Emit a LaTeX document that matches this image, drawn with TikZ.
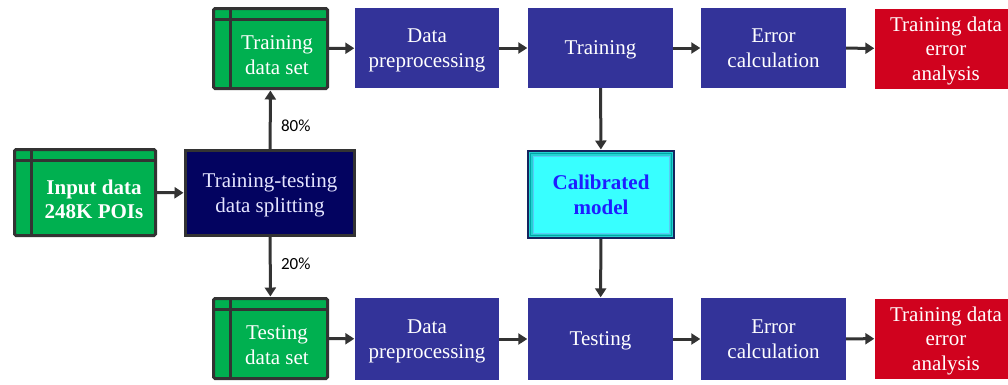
\documentclass[tikz,border=0pt]{standalone}
\usepackage{fontspec}
\setmainfont{Liberation Serif}
\newfontfamily\pctfont{Carlito}
\usetikzlibrary{arrows.meta}
\definecolor{gfill}{HTML}{00B050}
\definecolor{gborder}{HTML}{333333}
\definecolor{navyfill}{HTML}{030360}
\definecolor{bluebox}{HTML}{333399}
\definecolor{redbox}{HTML}{D0021E}
\definecolor{cyanfill}{HTML}{38FFFF}
\definecolor{cyanband}{HTML}{22D2D2}
\definecolor{calborder}{HTML}{16245E}
\definecolor{caltext}{HTML}{1E1EFF}
\definecolor{arrowc}{HTML}{333333}
\tikzset{
  txt/.style={font=\fontsize{21}{24.5}\selectfont, align=center, text=white, text depth=0pt},
  gbox/.style={draw=gborder, line width=3pt, fill=gfill, rounded corners=1.5pt,
    minimum width=#1, inner sep=0pt,
    path picture={
      \draw[line width=3pt, gborder] ([yshift=-11pt]path picture bounding box.north west) -- ([yshift=-11pt]path picture bounding box.north east);
      \draw[line width=3pt, gborder] ([xshift=17pt]path picture bounding box.north west) -- ([xshift=17pt]path picture bounding box.south west);
    }},
  bbox/.style={txt, fill=bluebox, minimum width=144pt, minimum height=80pt, inner sep=0pt},
  rbox/.style={txt, fill=redbox, minimum width=142pt, minimum height=80pt, inner sep=0pt},
  arr/.style={draw=arrowc, line width=3pt, -{Triangle[length=9pt,width=11pt]}, shorten >=0.5pt},
  pct/.style={font=\pctfont\fontsize{17}{19}\selectfont, text=black}
}
\begin{document}
\begin{tikzpicture}[x=1pt,y=-1pt]
\useasboundingbox (0,0) rectangle (1008,384);
\clip (0,0) rectangle (1008,384);
% green data boxes
\node[gbox=141pt, minimum height=86pt] (inp) at (85,192.5) {};
\node[txt, font=\fontsize{21}{24.5}\selectfont\bfseries] (inpt) at (94,199) {Input data\\248K POIs};
\node[gbox=114pt, minimum height=80pt] (trs) at (270.5,48.5) {};
\node[txt] (trst) at (277,55) {Training\\data set};
\node[gbox=114pt, minimum height=80pt] (tes) at (270.5,338.5) {};
\node[txt] (test) at (277,345) {Testing\\data set};
% splitting
\node[txt, fill=navyfill, draw=gborder, line width=3pt, text=white!90!blue, minimum width=169pt, minimum height=85pt, inner sep=0pt] (split) at (270,193) {Training-testing\\data splitting};
% top row
\node[bbox] (dp1) at (427,48) {Data\\preprocessing};
\node[bbox, minimum width=145pt] (tr) at (600.5,48) {Training};
\node[bbox, minimum width=145pt] (ec1) at (773.5,48) {Error\\calculation};
\node[rbox] (ra1) at (946,48.5) {Training data\\error\\analysis};
% bottom row
\node[bbox, minimum height=82pt] (dp2) at (427,339) {Data\\preprocessing};
\node[bbox, minimum width=145pt, minimum height=82pt] (te) at (600.5,339) {Testing};
\node[bbox, minimum width=145pt, minimum height=82pt] (ec2) at (773.5,339) {Error\\calculation};
\node[rbox] (ra2) at (946,338.5) {Training data\\error\\analysis};
% calibrated model
\node[txt, text=caltext, font=\fontsize{21}{24.5}\selectfont\bfseries, fill=cyanband, draw=calborder, line width=2pt,
  minimum width=146pt, minimum height=87pt, inner sep=0pt,
  path picture={
    \fill[cyanfill] ([xshift=5pt,yshift=-5pt]path picture bounding box.north west) rectangle ([xshift=-5pt,yshift=5pt]path picture bounding box.south east);
    \draw[line width=0.8pt, white!35!cyan] ([xshift=5pt,yshift=-5pt]path picture bounding box.north west) rectangle ([xshift=-5pt,yshift=5pt]path picture bounding box.south east);
    \draw[line width=1.2pt, teal!70!cyan] ([xshift=2.5pt,yshift=-2.5pt]path picture bounding box.north west) rectangle ([xshift=-2.5pt,yshift=2.5pt]path picture bounding box.south east);
  }] (cal) at (601,194.5) {Calibrated\\model};
% connectors
\draw[arr] (inp) -- (split);
\draw[arr] (split) -- node[pct, right=6pt, pos=0.4] (p80) {80\%} (trs);
\draw[arr] (split) -- node[pct, right=6pt, pos=0.45] (p20) {20\%} (tes);
\draw[arr] (trs) -- (dp1);
\draw[arr] (dp1) -- (tr);
\draw[arr] (tr) -- (ec1);
\draw[arr] (ec1) -- (ra1);
\draw[arr] (tes) -- (dp2);
\draw[arr] (dp2) -- (te);
\draw[arr] (te) -- (ec2);
\draw[arr] (ec2) -- (ra2);
\draw[arr] (tr) -- (cal);
\draw[arr] (cal) -- (te);
\end{tikzpicture}
\end{document}
